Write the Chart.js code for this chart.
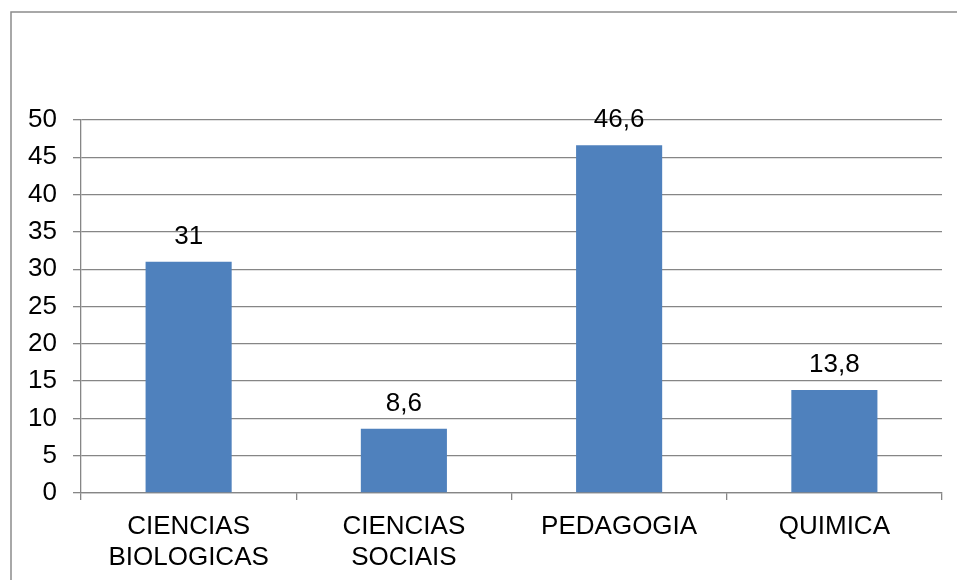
<!DOCTYPE html>
<html>
<head>
<meta charset="utf-8">
<script src="https://cdn.jsdelivr.net/npm/chart.js@4/dist/chart.umd.min.js"></script>
<style>
  html, body { margin: 0; padding: 0; background: #fff; }
  #wrap { width: 957px; height: 580px; position: relative; }
</style>
</head>
<body>
<div id="wrap"><canvas id="myChart"></canvas></div>
<script>
const categories = [['CIENCIAS', 'BIOLOGICAS'], ['CIENCIAS', 'SOCIAIS'], 'PEDAGOGIA', 'QUIMICA'];
const values = [31, 8.6, 46.6, 13.8];
const yTicks = [0, 5, 10, 15, 20, 25, 30, 35, 40, 45, 50];

const FONT = "'Liberation Sans', Arial, sans-serif";
const GRID = '#868686';

// outer frame, like the office chart border
const framePlugin = {
    id: 'frame',
    beforeDraw(chart) {
        const ctx = chart.ctx;
        ctx.save();
        ctx.strokeStyle = '#8c8c8c';
        ctx.lineWidth = 1.5;
        ctx.strokeRect(11, 12, 960, 600);
        ctx.restore();
    }
};

// value labels above the bars
const valueLabels = {
    id: 'valueLabels',
    afterDatasetsDraw(chart) {
        const ctx = chart.ctx;
        const meta = chart.getDatasetMeta(0);
        ctx.save();
        ctx.font = '26px ' + FONT;
        ctx.fillStyle = '#000';
        ctx.textAlign = 'center';
        ctx.textBaseline = 'alphabetic';
        meta.data.forEach((bar, i) => {
            const txt = String(values[i]).replace('.', ',');
            ctx.fillText(txt, bar.x, bar.y - 18);
        });
        ctx.restore();
    }
};

const ctx = document.getElementById('myChart').getContext('2d');
const chart = new Chart(ctx, {
    type: 'bar',
    data: {
        labels: categories,
        datasets: [{
            data: values,
            label: '',
            backgroundColor: '#4F81BD',
            borderColor: '#4F81BD',
            borderWidth: 0,
            categoryPercentage: 0.4,
            barPercentage: 1.0
        }]
    },
    options: {
        responsive: true,
        maintainAspectRatio: false,
        animation: false,
        layout: {
            padding: { top: 120, right: 15, left: 0, bottom: 0 }
        },
        plugins: {
            legend: { display: false },
            tooltip: { enabled: false }
        },
        scales: {
            y: {
                min: 0,
                max: 50,
                afterFit(scale) { scale.width = 81; },
                afterBuildTicks(scale) { scale.ticks = yTicks.map(v => ({ value: v })); },
                grid: {
                    color: GRID,
                    lineWidth: 1.3,
                    tickLength: 8
                },
                border: { display: true, color: GRID, width: 1.3 },
                ticks: {
                    padding: 16,
                    color: '#000',
                    font: { family: FONT, size: 26 }
                }
            },
            x: {
                afterFit(scale) { scale.height = 87; },
                grid: {
                    offset: true,
                    drawOnChartArea: false,
                    color: GRID,
                    lineWidth: 1.3,
                    tickLength: 7
                },
                border: { display: true, color: GRID, width: 1.3 },
                ticks: {
                    padding: 11,
                    color: '#000',
                    maxRotation: 0,
                    autoSkip: false,
                    font: { family: FONT, size: 26, lineHeight: 1.2 }
                }
            }
        }
    },
    plugins: [framePlugin, valueLabels]
});
</script>
</body>
</html>
